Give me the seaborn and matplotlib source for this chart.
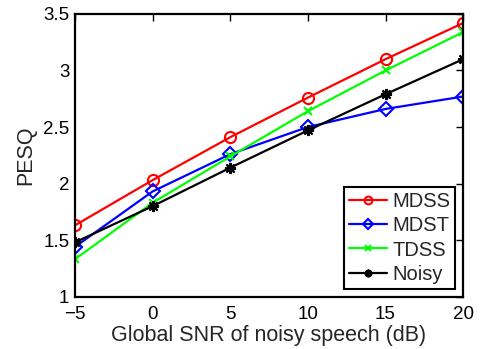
import matplotlib
matplotlib.use("Agg")
import matplotlib.pyplot as plt
import seaborn as sns
import pandas as pd

snr = [-5, 0, 5, 10, 15, 20]
mdss = [1.63, 2.03, 2.41, 2.76, 3.10, 3.42]
mdst = [1.44, 1.93, 2.26, 2.50, 2.66, 2.77]
tdss = [1.33, 1.83, 2.24, 2.64, 3.00, 3.34]
noisy = [1.48, 1.80, 2.14, 2.47, 2.79, 3.10]
names = ["MDSS", "MDST", "TDSS", "Noisy"]
yticks = [1, 1.5, 2, 2.5, 3, 3.5]
yticklabels = ["1", "1.5", "2", "2.5", "3", "3.5"]

sns.set_theme(style="white")
plt.rcParams['font.family'] = ['Liberation Sans', 'DejaVu Sans']

rows = []
for n, vals in zip(names, [mdss, mdst, tdss, noisy]):
    for x, v in zip(snr, vals):
        rows.append({"snr": x, "pesq": v, "method": n})
df = pd.DataFrame(rows)

fig = plt.figure(figsize=(4.8, 3.49), dpi=100)
ax = fig.add_axes([0.156, 0.150, 0.809, 0.810])

colors = {"MDSS": "#ff0000", "MDST": "#0000ff", "TDSS": "#00ff00", "Noisy": "#000000"}
markers = {"MDSS": "o", "MDST": "D", "TDSS": "x", "Noisy": (8, 2, 0)}
msizes = {"MDSS": 8, "MDST": 7, "TDSS": 6, "Noisy": 8}

for n in names:
    sub = df[df.method == n]
    sns.lineplot(data=sub, x="snr", y="pesq", ax=ax, color=colors[n], label=n,
                 marker=markers[n], markersize=msizes[n], linewidth=1.6,
                 markerfacecolor="none" if n in ("MDSS", "MDST") else colors[n],
                 markeredgecolor=colors[n], markeredgewidth=1.5)

ax.set_xlim(-5, 20)
ax.set_ylim(1, 3.5)
ax.set_xticks(snr)
ax.set_xticklabels(["\u22125", "0", "5", "10", "15", "20"])
ax.set_yticks(yticks)
ax.set_yticklabels(yticklabels)
ax.tick_params(direction="in", top=True, right=True, length=5, width=1,
               labelsize=13.5, colors="black")
ax.tick_params(axis="x", pad=6.5)
ax.tick_params(axis="y", pad=4)
for s in ax.spines.values():
    s.set_linewidth(1.6)
    s.set_color("black")
ax.set_xlabel("Global SNR of noisy speech (dB)", fontsize=15.5, labelpad=2)
ax.set_ylabel("PESQ", fontsize=15.5, labelpad=5)

leg = ax.legend(loc="lower right", fontsize=14.5, frameon=True, fancybox=False,
                borderaxespad=0.4, handlelength=1.9, handletextpad=0.25,
                borderpad=0.25, labelspacing=0.25, markerscale=0.7)
leg.get_frame().set_edgecolor("black")
leg.get_frame().set_linewidth(1.5)
leg.get_frame().set_alpha(1)

fig.savefig("out.png", dpi=100)
